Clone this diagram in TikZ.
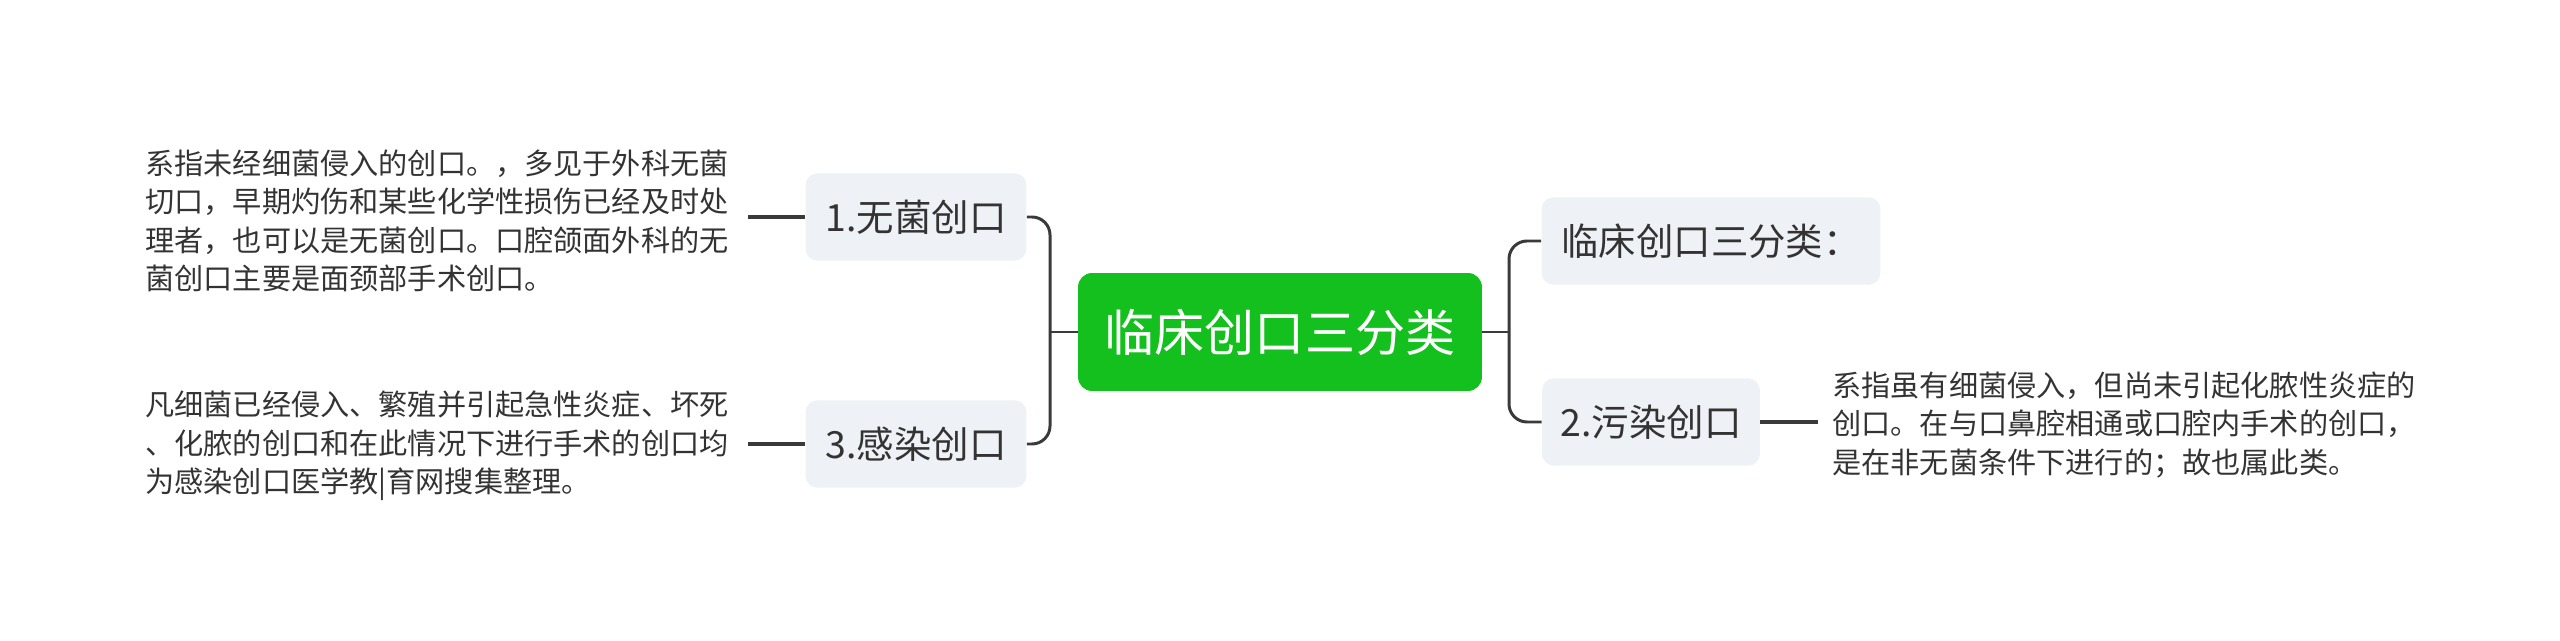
\documentclass[tikz,border=0pt]{standalone}
\usepackage{fontspec}
\newfontfamily\cjk{Noto Sans CJK SC}
\usetikzlibrary{shapes,arrows,positioning}
\definecolor{rootgreen}{HTML}{14C01E}
\definecolor{topicgray}{HTML}{EEF1F5}
\definecolor{linkgray}{HTML}{3A3A3A}
\definecolor{textgray}{HTML}{333333}

\begin{document}
\begin{tikzpicture}[x=0.02cm,y=-0.02cm,
rootstyle/.style={rectangle,rounded corners=0.28cm,fill=rootgreen,text=white,minimum width=8.08cm,minimum height=2.36cm,font=\cjk\fontsize{28.5}{34}\selectfont},
topicstyle/.style={rectangle,rounded corners=0.24cm,fill=topicgray,text=textgray,minimum height=1.75cm,font=\cjk\fontsize{21.3}{26}\selectfont},
notestyle/.style={align=left,inner sep=0,text=textgray,text width=11.8cm,font=\cjk\fontsize{16.6}{21.8}\selectfont},
linkstyle/.style={draw=linkgray,line width=1.7pt,rounded corners=0.36cm},
stubstyle/.style={draw=linkgray,line width=2.3pt}]
\useasboundingbox (0,0) rectangle (2560,641);
       \node [rootstyle]  (root) at (1280,332) {临床创口三分类};
       \node [topicstyle,minimum width=4.42cm]  (n1) at (916,217) {1.无菌创口};
       \node [topicstyle,minimum width=4.42cm]  (n3) at (916,444) {3.感染创口};
       \node [topicstyle,minimum width=6.78cm]  (n0) at (1711,241) {临床创口三分类：};
       \node [topicstyle,minimum width=4.36cm]  (n2) at (1651,422) {2.污染创口};
       \node [notestyle,anchor=west]  (t1) at (145,221) {系指未经细菌侵入的创口。，多见于外科无菌\\切口，早期灼伤和某些化学性损伤已经及时处\\理者，也可以是无菌创口。口腔颌面外科的无\\菌创口主要是面颈部手术创口。};
       \node [notestyle,anchor=west]  (t3) at (145,446) {凡细菌已经侵入、繁殖并引起急性炎症、坏死\\、化脓的创口和在此情况下进行手术的创口均\\为感染创口医学教|育网搜集整理。};
       \node [notestyle,anchor=west]  (t2) at (1832,425) {系指虽有细菌侵入，但尚未引起化脓性炎症的\\创口。在与口鼻腔相通或口腔内手术的创口，\\是在非无菌条件下进行的；故也属此类。};
\coordinate (lj) at (1050,332);
\coordinate (rj) at (1509,332);
\draw [linkstyle] (root.west)--(lj) ;
\draw [linkstyle] (n1.east)--(n1.east -| lj)--(n3.east -| lj)--(n3.east) ;
\draw [linkstyle] (root.east)--(rj) ;
\draw [linkstyle] (n0.west)--(n0.west -| rj)--(n2.west -| rj)--(n2.west) ;
\draw [stubstyle,shorten >=0.24cm] (n1.west)--(n1.west -| t1.east) ;
\draw [stubstyle,shorten >=0.24cm] (n3.west)--(n3.west -| t3.east) ;
\draw [stubstyle,shorten >=0.28cm] (n2.east)--(n2.east -| t2.west) ;
\end{tikzpicture}
\end{document}
